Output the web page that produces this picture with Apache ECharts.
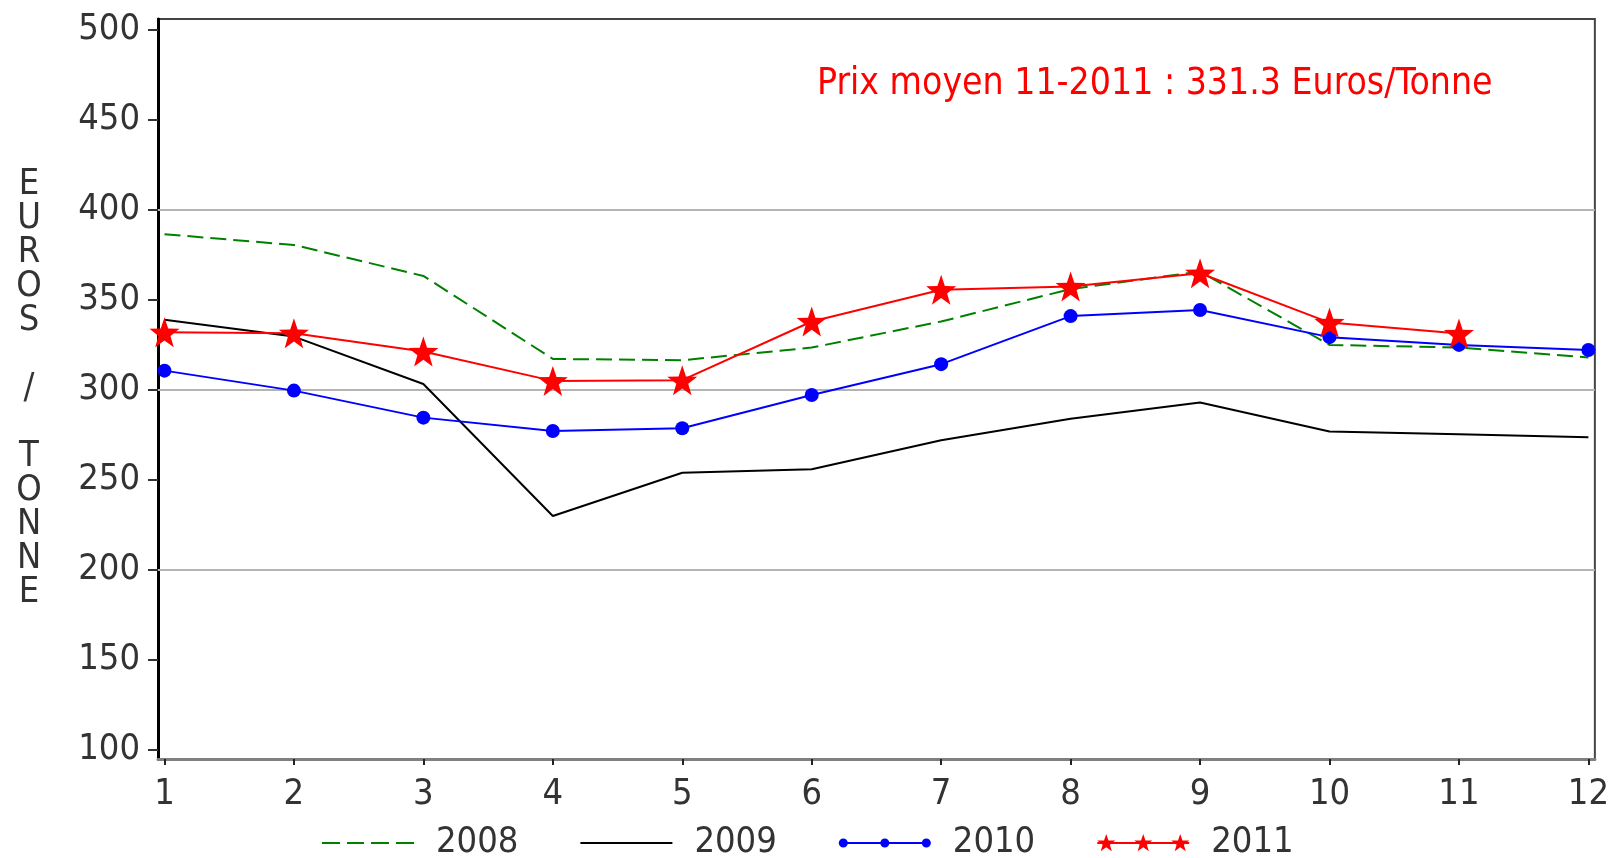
<!DOCTYPE html>
<html>
<head>
<meta charset="utf-8">
<script src="https://cdn.jsdelivr.net/npm/echarts@6/dist/echarts.min.js"></script>
<style>
html,body{margin:0;padding:0;background:#fff;}
#chart{width:1612px;height:858px;}
</style>
</head>
<body>
<div id="chart"></div>
<script>
// ---- data ----
const months = [1, 2, 3, 4, 5, 6, 7, 8, 9, 10, 11, 12];
const y2008 = [386.5, 380.5, 363.3, 317.2, 316.5, 323.5, 338, 356, 365.7, 325, 323.5, 318];
const y2009 = [338.9, 329.6, 303.3, 230, 254, 255.9, 272, 284, 293, 276.9, 275.4, 273.7];
const y2010 = [310.7, 299.6, 284.6, 277.2, 278.7, 297.2, 314.3, 341, 344.4, 329.3, 325, 322.2];
const y2011 = [332, 331.5, 321.3, 305, 305.4, 338, 355.6, 357.4, 364.8, 337.4, 331.3];
const yTicks = [100, 150, 200, 250, 300, 350, 400, 450, 500];
const gridValues = [200, 300, 400];
const seriesNames = ['2008', '2009', '2010', '2011'];
const annotation = 'Prix moyen 11-2011 : 331.3 Euros/Tonne';
const yAxisTitle = 'EUROS / TONNE';

// ---- helpers (styling only) ----
function starPath(cx, cy, R, r) {
  let d = '';
  for (let k = 0; k < 10; k++) {
    const ang = (-90 + k * 36) * Math.PI / 180;
    const rad = k % 2 === 0 ? R : r;
    const x = (cx + rad * Math.cos(ang)).toFixed(2);
    const y = (cy + rad * Math.sin(ang)).toFixed(2);
    d += (k === 0 ? 'M' : 'L') + x + ' ' + y + ' ';
  }
  return d + 'Z ';
}
function circlePath(cx, cy, r) {
  return 'M' + (cx - r) + ' ' + cy + ' a' + r + ' ' + r + ' 0 1 1 ' + (2 * r) + ' 0 a' + r + ' ' + r + ' 0 1 1 ' + (-2 * r) + ' 0 Z ';
}
const W = 109, H = 20;
const corners = 'M0 0 h0.01 v0.01 h-0.01 Z M' + (W - 0.01) + ' ' + (H - 0.01) + ' h0.01 v0.01 h-0.01 Z ';
const icon2008 = 'path://' + corners + 'M0 9 h18 v2 h-18 Z M25 9 h17 v2 h-17 Z M49 9 h18 v2 h-18 Z M74 9 h18 v2 h-18 Z';
const icon2009 = 'path://' + corners + 'M0 9 H92 V11 H0 Z';
const icon2010 = 'path://' + corners + 'M0 9 H92 V11 H0 Z ' + circlePath(4.5, 10, 4.5) + circlePath(46, 10, 4.5) + circlePath(87.5, 10, 4.5);
const icon2011 = 'path://' + corners + 'M0 9 H92 V11 H0 Z ' + starPath(9, 10.5, 9.5, 3.8) + starPath(46, 10.5, 9.5, 3.8) + starPath(83, 10.5, 9.5, 3.8);
const starSymbol = 'path://' + starPath(50, 50, 50, 20);

const FONT = "'DejaVu Sans Condensed', 'DejaVu Sans', sans-serif";
const FS = 36;
const toXY = (arr) => arr.map((v, i) => [months[i], v]);

const chart = echarts.init(document.getElementById('chart'), null, {renderer: 'canvas'});
chart.setOption({
  animation: false,
  backgroundColor: '#fff',
  textStyle: {fontFamily: FONT},
  title: {
    text: annotation,
    left: 817, top: 66, padding: 0,
    textStyle: {color: '#ff0000', fontSize: 37, fontWeight: 'normal', fontFamily: FONT}
  },
  grid: {
    left: 158, right: 17, top: 19, bottom: 99,
    show: true, borderColor: '#444', borderWidth: 2, backgroundColor: 'transparent',
    containLabel: false
  },
  legend: {
    left: 322, top: 825, itemGap: 62, padding: 0,
    itemWidth: W, itemHeight: H,
    textStyle: {fontSize: FS, color: '#333', fontFamily: FONT},
    itemStyle: {borderWidth: 0},
    data: [
      {name: seriesNames[0], icon: icon2008, itemStyle: {color: '#008000', borderWidth: 0}},
      {name: seriesNames[1], icon: icon2009, itemStyle: {color: '#000000', borderWidth: 0}},
      {name: seriesNames[2], icon: icon2010, itemStyle: {color: '#0000ff', borderWidth: 0}},
      {name: seriesNames[3], icon: icon2011, itemStyle: {color: '#ff0000', borderWidth: 0}}
    ]
  },
  xAxis: {
    type: 'value', min: 0.95, max: 12.05,
    axisLine: {show: true, lineStyle: {color: '#808080', width: 3}},
    axisTick: {show: true, customValues: months, length: 6, lineStyle: {color: '#222', width: 2}},
    axisLabel: {customValues: months, margin: 18, fontSize: FS, color: '#333', fontFamily: FONT},
    splitLine: {show: false}
  },
  yAxis: {
    type: 'value', min: 95, max: 506,
    name: yAxisTitle.split('').join('\n'),
    nameLocation: 'middle', nameRotate: 0, nameGap: 129,
    nameTextStyle: {fontSize: FS, color: '#333', lineHeight: 34, align: 'center', verticalAlign: 'middle', fontFamily: FONT},
    axisLine: {show: true, lineStyle: {color: '#000', width: 3}},
    axisTick: {show: true, customValues: yTicks, length: 10, lineStyle: {color: '#333', width: 2}},
    axisLabel: {customValues: yTicks, margin: 18, fontSize: FS, color: '#333', fontFamily: FONT},
    splitLine: {show: false}
  },
  series: [
    {
      name: seriesNames[0], type: 'line', data: toXY(y2008), symbol: 'none',
      lineStyle: {color: '#008000', width: 2, type: [16, 7]},
      itemStyle: {color: '#008000'},
      markLine: {
        silent: true, symbol: 'none', z: 1,
        label: {show: false},
        lineStyle: {color: '#b4b4b4', width: 2, type: 'solid'},
        emphasis: {disabled: true},
        data: gridValues.map(v => ({yAxis: v}))
      }
    },
    {
      name: seriesNames[1], type: 'line', data: toXY(y2009), symbol: 'none',
      lineStyle: {color: '#000', width: 2},
      itemStyle: {color: '#000'}
    },
    {
      name: seriesNames[2], type: 'line', data: toXY(y2010), symbol: 'circle', symbolSize: 14,
      lineStyle: {color: '#0000ff', width: 2},
      itemStyle: {color: '#0000ff'}
    },
    {
      name: seriesNames[3], type: 'line', data: toXY(y2011), symbol: starSymbol, symbolSize: 30,
      lineStyle: {color: '#ff0000', width: 2},
      itemStyle: {color: '#ff0000'}
    }
  ]
});
</script>
</body>
</html>
